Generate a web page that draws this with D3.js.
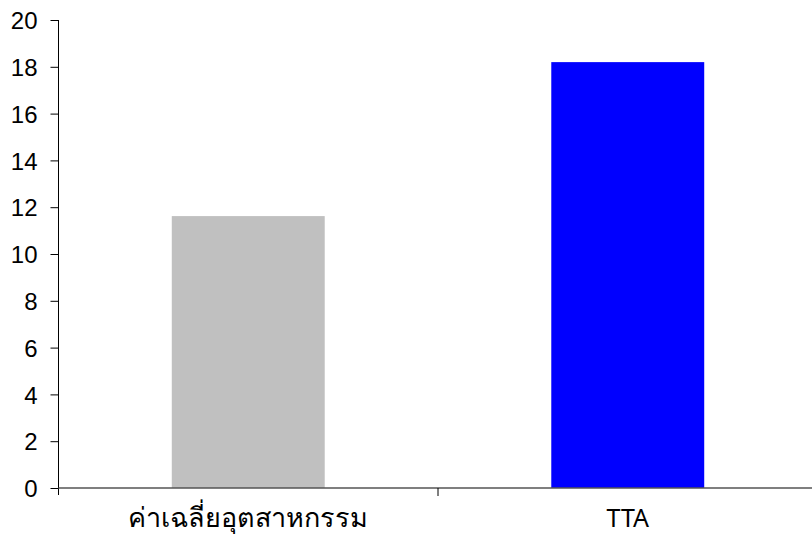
<!DOCTYPE html>
<html>
<head>
<meta charset="utf-8">
<script src="https://cdn.jsdelivr.net/npm/d3@7"></script>
<style>
	body { margin: 0; background: #fff; }
	svg { display: block; }
</style>
</head>
<body>
<div id="chart"></div>
<script>
// Data
const categories = ['ค่าเฉลี่ยอุตสาหกรรม', 'TTA'];
const values = [11.62, 18.2];
const barColors = ['#c0c0c0', '#0000ff'];
const yTicks = [0, 2, 4, 6, 8, 10, 12, 14, 16, 18, 20];

// Attribute
const width = 812;
const height = 537;
const margin = { top: 20, right: -5.5, bottom: 49, left: 58.5 };
const barFrac = 0.403;

const svg = d3.select('#chart').append('svg')
	.attr('width', width)
	.attr('height', height)
	.attr('viewBox', [0, 0, width, height]);

const x = d3.scaleBand()
	.domain(categories)
	.range([margin.left, width - margin.right])
	.padding(0);

const y = d3.scaleLinear()
	.domain([0, 20])
	.range([height - margin.bottom, margin.top]);

// Bars
const bw = x.bandwidth() * barFrac;
svg.append('g')
	.selectAll('rect')
	.data(values)
	.join('rect')
	.attr('x', (d, i) => x(categories[i]) + (x.bandwidth() - bw) / 2)
	.attr('y', (d) => y(d))
	.attr('width', bw)
	.attr('height', (d) => y(0) - y(d))
	.attr('fill', (d, i) => barColors[i]);

// Y axis
const yAxis = svg.append('g')
	.attr('transform', `translate(${margin.left},0)`)
	.call(d3.axisLeft(y).tickValues(yTicks).tickSize(8).tickPadding(13).tickSizeOuter(0));
yAxis.select('.domain').attr('stroke', '#000').attr('d', `M0,${y(20)}V${y(0) + 7}`);
yAxis.selectAll('.tick line').attr('stroke', '#000');
yAxis.selectAll('text')
	.attr('font-family', '"Liberation Sans", Arial, sans-serif')
	.attr('font-size', 24)
	.attr('dy', '0.36em')
	.attr('fill', '#000');

// X axis: line with ticks at category boundaries
const xAxis = svg.append('g');
xAxis.append('line')
	.attr('x1', margin.left)
	.attr('x2', width)
	.attr('y1', y(0))
	.attr('y2', y(0))
	.attr('stroke', '#555')
	.attr('stroke-width', 1.6);
xAxis.selectAll('.bound')
	.data(categories.slice(1))
	.join('line')
	.attr('class', 'bound')
	.attr('x1', (d) => x(d))
	.attr('x2', (d) => x(d))
	.attr('y1', y(0))
	.attr('y2', y(0) + 8)
	.attr('stroke', '#000');
xAxis.selectAll('text')
	.data(categories)
	.join('text')
	.attr('x', (d) => x(d) + x.bandwidth() / 2)
	.attr('y', y(0) + 39)
	.attr('text-anchor', 'middle')
	.attr('font-family', '"Noto Sans", "Liberation Sans", sans-serif')
	.attr('font-size', (d, i) => i === 0 ? 27 : 25)
	.attr('fill', '#000')
	.text((d) => d);
</script>
</body>
</html>
